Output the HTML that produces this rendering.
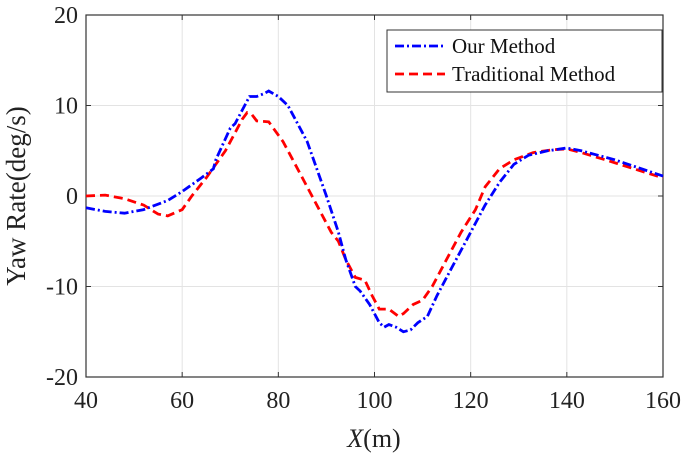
<!DOCTYPE html>
<html><head><meta charset="utf-8"><style>
body{margin:0;background:#fff;}
svg{display:block;font-family:"Liberation Serif",serif;}
</style></head><body>
<svg id="chart" width="685" height="457"></svg>
<script>
const xTicks=[40,60,80,100,120,140,160];
const yTicks=[-20,-10,0,10,20];
const seriesNames=["Our Method","Traditional Method"];
const blueX=[40,44,48,52,57,60,64,66.5,67,70,71,72.5,74,75.5,77,78,80,82,84,86,88,90,92.5,94,96,97,99,101,102,103,104.5,106,107.5,109,111,113,116,119,121,123,126,129,132,136,140,143,150,160];
const blueY=[-1.3,-1.7,-1.9,-1.5,-0.5,0.5,2,3,4,7.5,8,9.5,11,11,11.3,11.6,11,10,8,6,3,0,-4,-7,-10,-10.5,-12,-14,-14.5,-14.2,-14.5,-15,-14.8,-14,-13.3,-11,-8,-5,-3,-1,1.5,3.5,4.5,5,5.3,5,4,2.2];
const redX=[40,44,48,52,55,57,60,62,65,67,69,71,72.5,73.5,74.5,75.5,78,81,83,85,87,89,91,92.5,94,96,98,99.5,101,103,105,106,108,110,112,115,118,121,123,126,129,133,137,140,143,148,160];
const redY=[0,0.1,-0.3,-1,-2,-2.2,-1.5,0,2,3.5,5,7,8.5,9.2,9,8.3,8.2,6,4,2,0,-2,-4,-5,-7,-9,-9.3,-11,-12.5,-12.5,-13.3,-13,-12,-11.5,-10,-7,-4,-1.5,1,3,4,4.8,5.1,5.2,4.8,4,2];
const L=86,R=663,T=15,B=377;
const sx=v=>L+(v-40)/120*(R-L);
const sy=v=>T+(20-v)/40*(B-T);
const svg=document.getElementById('chart');
const NS="http://www.w3.org/2000/svg";
function mk(tag,attrs,parent){const e=document.createElementNS(NS,tag);for(const k in attrs)e.setAttribute(k,attrs[k]);(parent||svg).appendChild(e);return e;}
xTicks.forEach(v=>{
 const g=mk('line',{x1:sx(v),x2:sx(v),y1:T,y2:B,stroke:'#e3e3e3','stroke-width':1});
 
 
 mk('line',{x1:sx(v),x2:sx(v),y1:B,y2:B-5,stroke:'#333'});
 mk('line',{x1:sx(v),x2:sx(v),y1:T,y2:T+5,stroke:'#333'});
 const t=mk('text',{x:sx(v),y:B+31,'text-anchor':'middle','font-size':24,fill:'#222'});
 t.textContent=v;
 
 
});
yTicks.forEach(v=>{
 const g=mk('line',{x1:L,x2:R,y1:sy(v),y2:sy(v),stroke:'#e3e3e3','stroke-width':1});
 
 
 mk('line',{x1:L,x2:L+5,y1:sy(v),y2:sy(v),stroke:'#333'});
 mk('line',{x1:R,x2:R-5,y1:sy(v),y2:sy(v),stroke:'#333'});
 const t=mk('text',{x:L-8,y:sy(v)+8,'text-anchor':'end','font-size':24,fill:'#222'});
 t.textContent=v;
 
 
});
const box=mk('rect',{x:L,y:T,width:R-L,height:B-T,fill:'none',stroke:'#333','stroke-width':1.2});


function line(xs,ys,color,dash,name){
 const d=xs.map((x,i)=>(i?'L':'M')+sx(x).toFixed(1)+','+sy(ys[i]).toFixed(1)).join('');
 const p=mk('path',{d:d,fill:'none',stroke:color,'stroke-width':2.8,'stroke-dasharray':dash});
 
 
}
line(redX,redY,'#ff0000','9,5','traditional-method-line');
line(blueX,blueY,'#0000ff','9,3,2,3','our-method-line');
const lg=mk('g',{});


mk('rect',{x:387,y:30,width:275,height:62,fill:'#fff',stroke:'#333','stroke-width':1},lg);
mk('line',{x1:395,x2:445,y1:46,y2:46,stroke:'#0000ff','stroke-width':2.8,'stroke-dasharray':'9,3,2,3'},lg);
mk('line',{x1:395,x2:445,y1:74,y2:74,stroke:'#ff0000','stroke-width':2.8,'stroke-dasharray':'9,5'},lg);
const t1=mk('text',{x:452,y:53,'font-size':21,fill:'#111'},lg);t1.textContent=seriesNames[0];


const t2=mk('text',{x:452,y:81,'font-size':21,fill:'#111'},lg);t2.textContent=seriesNames[1];


</script>
<svg style="position:absolute;left:0;top:0" width="685" height="457">
<text x="374" y="447" text-anchor="middle" font-family="Liberation Serif,serif" font-size="26" fill="#222"><tspan font-style="italic">X</tspan>(m)</text>
<text transform="translate(25,196) rotate(-90)" text-anchor="middle" font-family="Liberation Serif,serif" font-size="27" fill="#222">Yaw Rate(deg/s)</text>
</svg>
</body></html>
